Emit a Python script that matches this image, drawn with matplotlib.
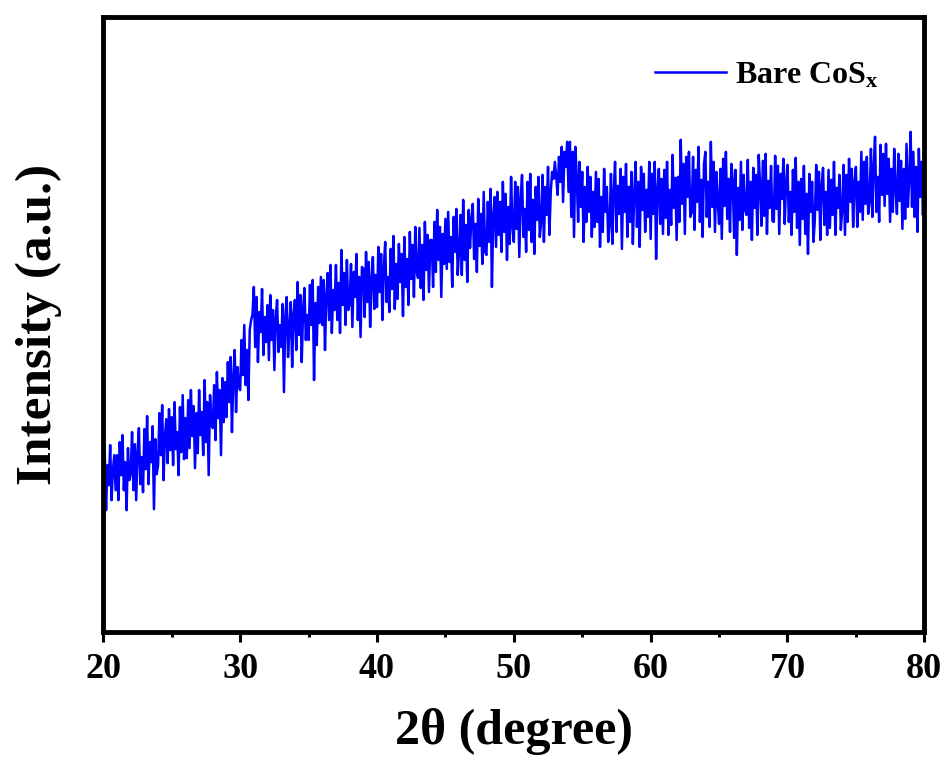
import matplotlib
matplotlib.use('Agg')
import matplotlib.pyplot as plt
import numpy as np
from matplotlib.ticker import MultipleLocator

plt.rcParams['font.family'] = ['Liberation Serif', 'DejaVu Serif']
plt.rcParams['font.weight'] = 'bold'
plt.rcParams['mathtext.fontset'] = 'custom'
plt.rcParams['mathtext.rm'] = 'Liberation Serif:bold'
plt.rcParams['mathtext.it'] = 'Liberation Serif:bold'
plt.rcParams['mathtext.bf'] = 'Liberation Serif:bold'

# XRD pattern, 2theta from 20 to 80 deg in 0.1 deg steps (one row per degree)
two_theta_start = 20.0
two_theta_step = 0.1
intensity_rows = [
    [137, 182, 122, 167, 147, 187, 132, 162, 177, 142],  # 20
    [177, 132, 190, 157, 197, 142, 170, 122, 184, 152],  # 21
    [158, 200, 142, 188, 132, 180, 204, 148, 175, 140],  # 22
    [203, 163, 216, 148, 190, 170, 206, 123, 193, 158],  # 23
    [167, 219, 177, 227, 152, 195, 213, 169, 223, 182],  # 24
    [215, 167, 230, 183, 200, 157, 225, 180, 237, 173],  # 25
    [214, 174, 232, 184, 242, 196, 226, 164, 219, 179],  # 26
    [242, 197, 220, 177, 252, 190, 230, 157, 237, 207],  # 27
    [204, 247, 192, 260, 214, 242, 177, 254, 210, 250],  # 28
    [215, 270, 230, 275, 200, 255, 282, 220, 265, 245],  # 29
    [242, 292, 257, 307, 247, 282, 232, 302, 312, 317],  # 30
    [345, 285, 335, 270, 320, 300, 343, 277, 315, 290],  # 31
    [327, 272, 337, 292, 322, 262, 314, 332, 280, 307],  # 32
    [285, 328, 240, 315, 335, 275, 305, 330, 265, 318],  # 33
    [332, 282, 350, 297, 337, 270, 322, 344, 292, 317],  # 34
    [292, 347, 307, 352, 252, 329, 287, 345, 309, 355],  # 35
    [307, 352, 282, 337, 359, 312, 367, 299, 342, 322],  # 36
    [367, 312, 349, 299, 382, 327, 359, 307, 372, 322],  # 37
    [328, 368, 305, 360, 335, 378, 312, 355, 295, 365],  # 38
    [363, 315, 380, 330, 370, 305, 353, 375, 323, 357],  # 39
    [325, 385, 340, 378, 312, 365, 390, 330, 355, 320],  # 40
    [383, 343, 396, 323, 368, 333, 388, 350, 378, 316],  # 41
    [395, 345, 373, 327, 400, 353, 387, 335, 405, 360],  # 42
    [354, 404, 344, 387, 332, 410, 362, 397, 340, 392],  # 43
    [392, 345, 410, 360, 422, 372, 405, 335, 398, 368],  # 44
    [413, 363, 420, 370, 395, 345, 415, 380, 423, 357],  # 45
    [382, 417, 357, 432, 372, 407, 350, 422, 384, 414],  # 46
    [428, 373, 408, 360, 433, 386, 418, 368, 440, 380],  # 47
    [377, 430, 390, 443, 345, 417, 435, 385, 440, 397],  # 48
    [430, 380, 450, 400, 438, 372, 425, 388, 455, 405],  # 49
    [390, 450, 403, 445, 375, 433, 457, 395, 423, 380],  # 50
    [450, 402, 458, 390, 432, 378, 445, 412, 455, 395],  # 51
    [410, 457, 390, 445, 417, 465, 397, 440, 460, 453],  # 52
    [470, 455, 437, 475, 450, 485, 430, 480, 465, 490],  # 53
    [440, 490, 415, 480, 395, 485, 455, 410, 470, 425],  # 54
    [460, 390, 445, 410, 465, 420, 455, 395, 440, 405],  # 55
    [460, 410, 453, 385, 435, 400, 463, 420, 445, 390],  # 56
    [408, 458, 388, 440, 470, 400, 446, 418, 463, 383],  # 57
    [455, 420, 468, 395, 445, 410, 460, 388, 438, 470],  # 58
    [405, 450, 385, 465, 422, 458, 400, 442, 415, 470],  # 59
    [393, 458, 418, 470, 373, 443, 463, 408, 453, 398],  # 60
    [462, 414, 470, 397, 442, 407, 477, 424, 454, 392],  # 61
    [455, 410, 492, 428, 468, 398, 475, 435, 480, 415],  # 62
    [420, 475, 402, 462, 430, 485, 410, 452, 395, 468],  # 63
    [480, 415, 450, 405, 490, 425, 470, 400, 460, 432],  # 64
    [408, 463, 393, 473, 426, 480, 413, 453, 400, 468],  # 65
    [452, 394, 462, 377, 444, 412, 470, 402, 457, 422],  # 66
    [417, 472, 404, 450, 392, 464, 424, 457, 397, 477],  # 67
    [446, 406, 471, 416, 478, 398, 451, 424, 466, 411],  # 68
    [410, 476, 423, 466, 398, 458, 433, 473, 408, 450],  # 69
    [467, 410, 440, 397, 462, 420, 474, 404, 450, 387],  # 70
    [453, 413, 466, 398, 438, 378, 458, 420, 450, 390],  # 71
    [412, 467, 422, 460, 392, 447, 464, 407, 440, 397],  # 72
    [462, 404, 452, 417, 470, 397, 444, 424, 457, 402],  # 73
    [423, 467, 397, 457, 410, 473, 430, 463, 405, 450],  # 74
    [465, 405, 450, 420, 480, 412, 470, 428, 475, 418],  # 75
    [430, 483, 415, 465, 495, 420, 455, 410, 487, 437],  # 76
    [478, 426, 488, 438, 473, 410, 463, 420, 483, 443],  # 77
    [418, 478, 431, 471, 403, 463, 413, 488, 425, 453],  # 78
    [500, 425, 480, 415, 465, 400, 483, 435, 470, 417],  # 79
    [455],                                               # 80
]

intensity = np.array([v for row in intensity_rows for v in row], dtype=float)
two_theta = two_theta_start + two_theta_step * np.arange(len(intensity))

fig = plt.figure(figsize=(9.48, 7.6), dpi=100)
ax = fig.add_axes([0.109, 0.168, 0.866, 0.810])

ax.plot(two_theta, intensity, color='#0000FF', linewidth=1.8, label='Bare CoS$_\\mathrm{x}$')

ax.set_xlim(20, 80)
ax.set_ylim(0, 615)
ax.xaxis.set_major_locator(MultipleLocator(10))
ax.xaxis.set_minor_locator(MultipleLocator(5))
ax.tick_params(axis='x', which='major', direction='out', length=7, width=2.2,
               labelsize=26, pad=8)
ax.tick_params(axis='x', which='minor', direction='out', length=3.5, width=2.2)
ax.tick_params(axis='y', which='both', left=False, labelleft=False)
for lbl in ax.get_xticklabels():
    lbl.set_fontweight('bold')

for sp in ax.spines.values():
    sp.set_linewidth(3.5)

ax.set_xlabel('2θ (degree)', fontsize=36, fontweight='bold', labelpad=16)
ax.set_ylabel('Intensity (a.u.)', fontsize=37, fontweight='bold')
ax.yaxis.set_label_coords(-0.050, 0.5)

leg = ax.legend(loc='upper right', frameon=False, fontsize=23,
                handlelength=2.2, handletextpad=0.3,
                bbox_to_anchor=(0.98, 0.975))
for t in leg.get_texts():
    t.set_fontweight('bold')

fig.savefig('out.png', dpi=100)
